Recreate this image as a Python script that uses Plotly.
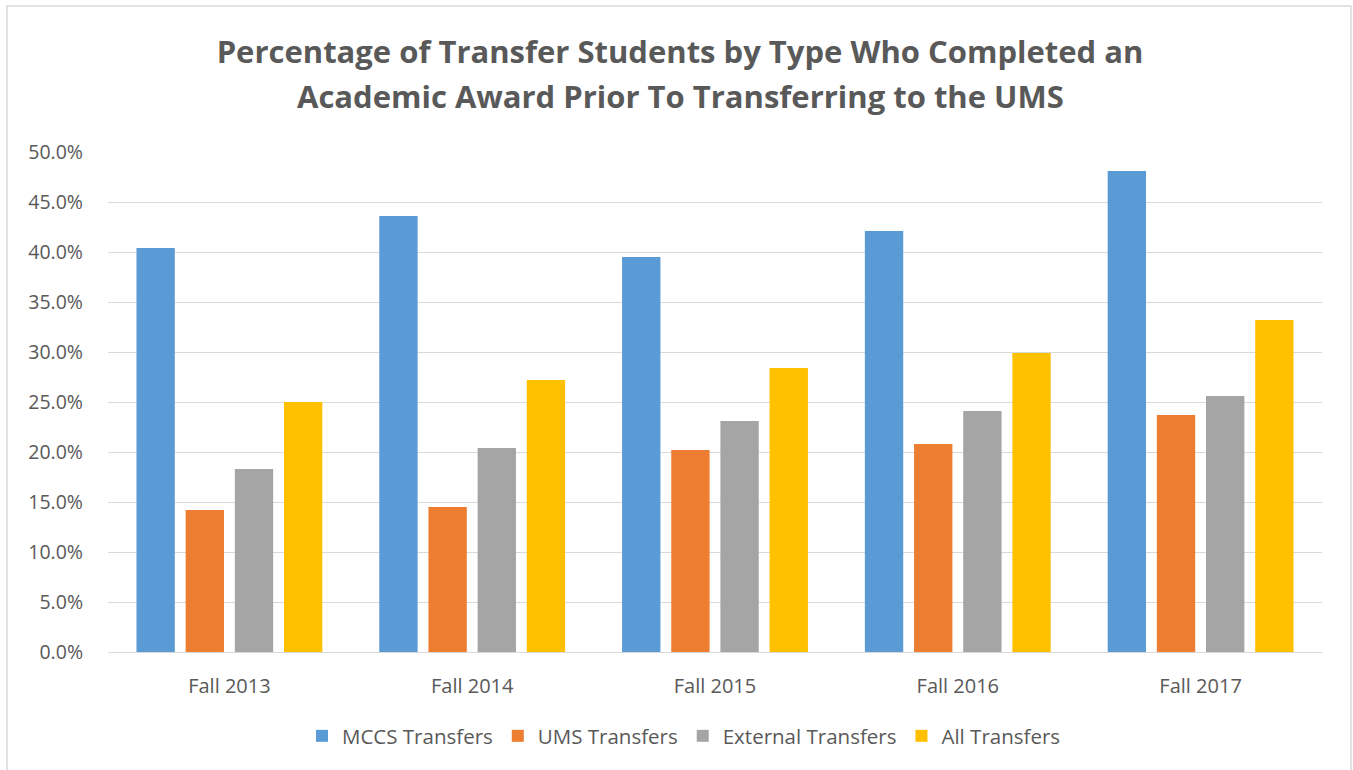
import plotly.graph_objects as go

categories = ["Fall 2013", "Fall 2014", "Fall 2015", "Fall 2016", "Fall 2017"]
mccs = [40.4, 43.6, 39.5, 42.1, 48.1]
ums = [14.2, 14.5, 20.2, 20.8, 23.7]
external = [18.3, 20.4, 23.1, 24.1, 25.6]
all_transfers = [25.0, 27.2, 28.4, 29.9, 33.2]

series_names = ["MCCS Transfers", "UMS Transfers", "External Transfers", "All Transfers"]
series_values = [mccs, ums, external, all_transfers]
colors = ["#5B9BD5", "#ED7D31", "#A5A5A5", "#FFC000"]

title_line1 = "Percentage of Transfer Students by Type Who Completed an"
title_line2 = "Academic Award Prior To Transferring to the UMS"

FONT = "'Open Sans', Lato, sans-serif"
fig = go.Figure()
for name, vals, c in zip(series_names, series_values, colors):
    fig.add_trace(go.Bar(x=categories, y=vals, name=name, marker=dict(color=c, line=dict(width=0))))

fig.update_layout(
    width=1353, height=770,
    paper_bgcolor="white", plot_bgcolor="white",
    margin=dict(l=108, r=31, t=152, b=118),
    barmode="group", bargap=0.19, bargroupgap=0.22,
    font=dict(family=FONT, color="#595959", size=16),
    title=dict(
        text="<b>" + title_line1 + "</b>",
        x=680 / 1353, xanchor="center", y=1 - 52 / 770, yanchor="middle",
        font=dict(family=FONT, size=31, color="#595959"),
    ),
    legend=dict(orientation="h", x=(684 - 108) / 1214, xanchor="center", y=-0.168, yanchor="middle",
                font=dict(family=FONT, size=20.5, color="#595959"), traceorder="normal"),
    xaxis=dict(showgrid=False, showline=True, linecolor="#D9D9D9", linewidth=1,
               ticks="", tickfont=dict(size=20), ticklabelstandoff=16),
    yaxis=dict(range=[0, 50], dtick=5, tickformat=".1f", ticksuffix="%",
               showgrid=True, gridcolor="#D9D9D9", gridwidth=1.3, zeroline=False,
               ticks="", tickfont=dict(size=19.5), ticklabelstandoff=24),
)
fig.add_annotation(text="<b>" + title_line2 + "</b>", xref="paper", yref="paper",
                   x=(680 - 108) / 1214, y=1 + (152 - 96) / 500, xanchor="center", yanchor="middle",
                   showarrow=False, font=dict(family=FONT, size=31, color="#595959"))
fig.add_shape(type="rect", xref="paper", yref="paper",
              x0=(7 - 108) / 1214, x1=(1351 - 108) / 1214, y0=-(790 - 652) / 500, y1=1 + (152 - 6) / 500,
              line=dict(color="#D9D9D9", width=1.5), fillcolor="rgba(0,0,0,0)")
fig.write_html("out.html", config={"displayModeBar": False},
               post_script="document.body.style.margin='0';document.body.style.padding='0';")
